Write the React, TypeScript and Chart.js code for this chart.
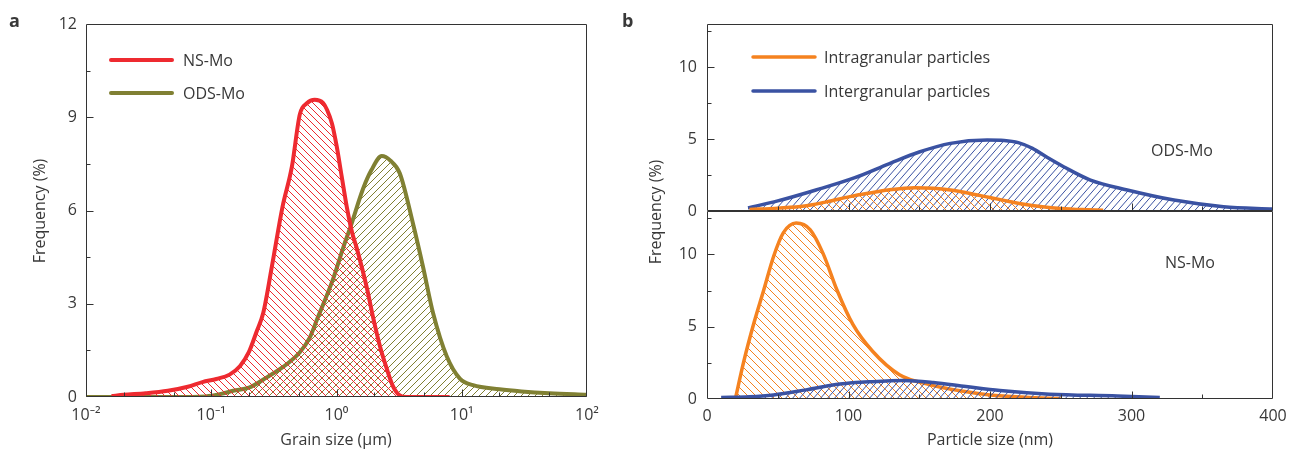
import React, { useEffect, useRef } from 'react';
import { Chart, registerables } from 'chart.js';

Chart.register(...registerables);

const FONT = '"Open Sans", "Noto Sans", "DejaVu Sans", sans-serif';
const TEXT = '#383838';
const AXIS = '#333333';

const RED = '#ee2a30';
const OLIVE = '#808033';
const ORANGE = '#f5821f';
const BLUE = '#3a52a2';

// ---- Panel a : grain size distribution (log x, um) ----
const nsMoGrainX = [0.016, 0.02, 0.03, 0.045, 0.065, 0.085, 0.11, 0.14, 0.17, 0.2, 0.23, 0.26, 0.305, 0.37, 0.44, 0.51, 0.58, 0.67, 0.78, 0.84, 0.92, 1.0, 1.1, 1.21, 1.33, 1.46, 1.75, 1.95, 2.22, 2.5, 2.82, 3.2, 3.6, 8];
const nsMoGrainY = [0.03, 0.07, 0.12, 0.2, 0.33, 0.48, 0.58, 0.72, 1.0, 1.45, 2.1, 2.7, 4.2, 6.1, 7.4, 9.1, 9.45, 9.56, 9.46, 9.24, 8.8, 8.1, 7.1, 6.1, 5.3, 4.75, 3.5, 2.6, 1.64, 0.95, 0.35, 0.05, 0, 0];
const odsMoGrainX = [0.01, 0.05, 0.09, 0.12, 0.15, 0.2, 0.28, 0.37, 0.51, 0.61, 0.7, 0.94, 1.13, 1.3, 1.63, 1.9, 2.3, 2.7, 3.2, 4.07, 4.9, 5.9, 7.6, 9.7, 12.3, 20, 30, 50, 100];
const odsMoGrainY = [0, 0, 0.02, 0.1, 0.2, 0.3, 0.64, 0.95, 1.44, 1.9, 2.5, 3.8, 4.8, 5.5, 6.7, 7.3, 7.75, 7.6, 7.2, 5.6, 4.2, 2.7, 1.3, 0.58, 0.38, 0.25, 0.18, 0.12, 0.07];

const grainTickValues = [0.01, 0.1, 1, 10, 100];
const grainTickLabels = ['10⁻²', '10⁻¹', '10⁰', '10¹', '10²'];
const grainMinor = [2, 5];
const freqTicksA = [0, 3, 6, 9, 12];
const freqMinorA = [1.5, 4.5, 7.5, 10.5];

// ---- Panel b : particle size distribution (nm) ----
const odsIntraX = [30, 50, 69, 85, 101, 115, 128, 147, 160, 172, 186, 199, 212, 223, 237, 250, 265, 280];
const odsIntraY = [0.1, 0.2, 0.35, 0.65, 1.0, 1.25, 1.46, 1.62, 1.58, 1.46, 1.22, 0.95, 0.7, 0.49, 0.3, 0.18, 0.1, 0.06];
const odsInterX = [29, 50, 77, 104, 129, 150, 172, 198, 210, 220, 230, 240, 252, 271, 297, 330, 365, 400];
const odsInterY = [0.22, 0.7, 1.46, 2.3, 3.3, 4.1, 4.7, 4.93, 4.9, 4.75, 4.35, 3.75, 3.08, 2.15, 1.46, 0.76, 0.3, 0.14];
const nsIntraX = [20, 26, 33, 40, 47, 54, 63, 73, 82, 92, 103, 117, 136, 158, 180, 200, 225, 250];
const nsIntraY = [0, 2.6, 5.2, 7.5, 9.84, 11.5, 12.17, 11.7, 10.07, 7.5, 5.17, 3.3, 1.68, 0.98, 0.55, 0.28, 0.12, 0.03];
const nsInterX = [10, 30, 47, 70, 94, 117, 139, 160, 183, 207, 242, 290, 320];
const nsInterY = [0.1, 0.15, 0.28, 0.63, 1.03, 1.2, 1.28, 1.14, 0.86, 0.58, 0.33, 0.21, 0.1];

const particleTicks = [0, 100, 200, 300, 400];
const particleMajor = [100, 200, 300];
const particleMinor = [50, 150, 250, 350];
const freqTicksB = [0, 5, 10];
const freqMinorB = [2.5, 7.5, 12.5];

const zip = (xs: number[], ys: number[]) => xs.map((x, i) => ({ x, y: ys[i] }));

function hatch(ctx: CanvasRenderingContext2D, color: string, dir: '/' | '\\', w: number, h: number) {
  const c = document.createElement('canvas');
  c.width = w;
  c.height = h;
  const g = c.getContext('2d')!;
  g.strokeStyle = color;
  g.lineWidth = 1;
  g.beginPath();
  for (const ox of [-w, 0, w]) {
    if (dir === '/') {
      g.moveTo(ox, h);
      g.lineTo(ox + w, 0);
    } else {
      g.moveTo(ox, 0);
      g.lineTo(ox + w, h);
    }
  }
  g.stroke();
  return ctx.createPattern(c, 'repeat')!;
}

type Txt = { t: string; x: number; y: number; align?: CanvasTextAlign; size?: number; bold?: boolean; rot?: boolean; base?: CanvasTextBaseline };
type Leg = { x1: number; x2: number; tx: number; ys: number[]; lw: number };
type Spec = { xMajor: number[]; xMinor: number[]; yMajor: number[]; yMinor: number[]; texts: Txt[]; legend?: Leg };

function decor(spec: Spec) {
  return {
    id: 'decor',
    afterDatasetsDraw(chart: any) {
      const { ctx, chartArea: a, scales } = chart;
      const xs = scales.x;
      const ys = scales.y;
      ctx.save();
      ctx.strokeStyle = AXIS;
      ctx.lineWidth = 1;
      ctx.beginPath();
      const L = Math.round(a.left) + 0.5;
      const R = Math.round(a.right) - 0.5;
      const T = Math.round(a.top) + 0.5;
      const B = Math.round(a.bottom) - 0.5;
      ctx.moveTo(L, T);
      ctx.lineTo(R, T);
      ctx.lineTo(R, B);
      ctx.lineTo(L, B);
      ctx.closePath();
      const xt = (v: number, len: number) => {
        const p = Math.round(xs.getPixelForValue(v)) + 0.5;
        ctx.moveTo(p, B);
        ctx.lineTo(p, B - len);
      };
      const yt = (v: number, len: number) => {
        const p = Math.round(ys.getPixelForValue(v)) + 0.5;
        ctx.moveTo(L, p);
        ctx.lineTo(L + len, p);
      };
      spec.xMajor.forEach((v) => xt(v, 7));
      spec.xMinor.forEach((v) => xt(v, 4));
      spec.yMajor.forEach((v) => yt(v, 7));
      spec.yMinor.forEach((v) => yt(v, 4));
      ctx.stroke();

      if (spec.legend) {
        const lg = spec.legend;
        chart.data.datasets.forEach((ds: any, i: number) => {
          const y = lg.ys[i];
          ctx.strokeStyle = ds.borderColor;
          ctx.lineWidth = lg.lw;
          ctx.lineCap = 'round';
          ctx.beginPath();
          ctx.moveTo(lg.x1, y);
          ctx.lineTo(lg.x2, y);
          ctx.stroke();
          ctx.fillStyle = TEXT;
          ctx.font = `16px ${FONT}`;
          ctx.textAlign = 'left';
          ctx.textBaseline = 'middle';
          ctx.fillText(ds.label, lg.tx, y + 1);
        });
      }

      for (const tx of spec.texts) {
        ctx.save();
        ctx.fillStyle = TEXT;
        ctx.font = `${tx.bold ? 'bold ' : ''}${tx.size || 16}px ${FONT}`;
        ctx.textAlign = tx.align || 'center';
        ctx.textBaseline = tx.base || 'middle';
        ctx.translate(tx.x, tx.y);
        if (tx.rot) ctx.rotate(-Math.PI / 2);
        ctx.fillText(tx.t, 0, 0);
        ctx.restore();
      }
      ctx.restore();
    },
  };
}

const tickFont = { family: FONT, size: 16 };

function ds(label: string, data: any[], color: string, pattern: CanvasPattern, width: number) {
  return {
    label,
    data,
    borderColor: color,
    borderWidth: width,
    backgroundColor: pattern,
    fill: 'origin',
    pointRadius: 0,
    cubicInterpolationMode: 'monotone',
    tension: 0.4,
  };
}

const fixX = (h: number) => (s: any) => {
  s.height = h;
  s.paddingLeft = 0;
  s.paddingRight = 0;
};
const fixY = (w: number) => (s: any) => {
  s.width = w;
  s.paddingTop = 0;
  s.paddingBottom = 0;
};

function baseOptions(padding: any, xScale: any, yScale: any) {
  return {
    responsive: false,
    animation: false,
    devicePixelRatio: 1,
    layout: { padding },
    plugins: { legend: { display: false }, tooltip: { enabled: false }, title: { display: false } },
    events: [],
    scales: { x: xScale, y: yScale },
  };
}

export default function App() {
  const aRef = useRef<HTMLCanvasElement>(null);
  const btRef = useRef<HTMLCanvasElement>(null);
  const bbRef = useRef<HTMLCanvasElement>(null);

  useEffect(() => {
    const charts: Chart[] = [];

    // Panel a
    const ca = aRef.current!;
    const ctxA = ca.getContext('2d')!;
    charts.push(
      new Chart(ca, {
        type: 'line',
        data: {
          datasets: [
            ds('NS-Mo', zip(nsMoGrainX, nsMoGrainY), RED, hatch(ctxA, RED, '\\', 7, 7), 4),
            ds('ODS-Mo', zip(odsMoGrainX, odsMoGrainY), OLIVE, hatch(ctxA, OLIVE, '/', 7, 7), 4),
          ],
        },
        options: baseOptions(
          { left: 0, top: 24, right: 703, bottom: 0 },
          {
            type: 'logarithmic',
            min: 0.01,
            max: 100,
            grid: { display: false, drawTicks: false },
            border: { display: false },
            ticks: { autoSkip: false, maxRotation: 0, padding: 9, font: tickFont, color: TEXT, callback: (_v: any, i: number) => grainTickLabels[i] },
            afterBuildTicks: (s: any) => { s.ticks = grainTickValues.map((value) => ({ value })); },
            afterFit: fixX(52),
          },
          {
            type: 'linear',
            min: 0,
            max: 12,
            grid: { display: false, drawTicks: false },
            border: { display: false },
            ticks: { padding: 9, font: tickFont, color: TEXT },
            afterBuildTicks: (s: any) => { s.ticks = freqTicksA.map((value) => ({ value })); },
            afterFit: fixY(86),
          }
        ) as any,
        plugins: [
          decor({
            xMajor: grainTickValues.slice(1, -1),
            xMinor: grainTickValues.slice(0, -1).flatMap((d) => grainMinor.map((m) => d * m)),
            yMajor: freqTicksA.slice(1, -1),
            yMinor: freqMinorA,
            texts: [
              { t: 'a', x: 9, y: 27, bold: true, size: 18, align: 'left', base: 'alphabetic' },
              { t: 'Grain size (μm)', x: 336, y: 440 },
              { t: 'Frequency (%)', x: 40, y: 211, rot: true },
            ],
            legend: { x1: 111, x2: 172, tx: 183, ys: [60, 93], lw: 4 },
          }),
        ],
      } as any)
    );

    // Panel b top (ODS-Mo)
    const cbt = btRef.current!;
    const ctxBT = cbt.getContext('2d')!;
    charts.push(
      new Chart(cbt, {
        type: 'line',
        data: {
          datasets: [
            ds('Intragranular particles', zip(odsIntraX, odsIntraY), ORANGE, hatch(ctxBT, ORANGE, '\\', 8, 8), 3.5),
            ds('Intergranular particles', zip(odsInterX, odsInterY), BLUE, hatch(ctxBT, BLUE, '/', 7, 8), 3.5),
          ],
        },
        options: baseOptions(
          { left: 620, top: 24, right: 17, bottom: 0 },
          {
            type: 'linear',
            min: 0,
            max: 400,
            grid: { display: false, drawTicks: false },
            border: { display: false },
            ticks: { display: false },
            afterFit: fixX(238),
          },
          {
            type: 'linear',
            min: 0,
            max: 13,
            grid: { display: false, drawTicks: false },
            border: { display: false },
            ticks: { padding: 10, font: tickFont, color: TEXT },
            afterBuildTicks: (s: any) => { s.ticks = freqTicksB.map((value) => ({ value })); },
            afterFit: fixY(87),
          }
        ) as any,
        plugins: [
          decor({
            xMajor: particleMajor,
            xMinor: particleMinor,
            yMajor: freqTicksB.slice(1),
            yMinor: freqMinorB,
            texts: [
              { t: 'b', x: 622, y: 27, bold: true, size: 18, align: 'left', base: 'alphabetic' },
              { t: 'ODS-Mo', x: 1151, y: 151, align: 'left' },
              { t: 'Frequency (%)', x: 656, y: 212, rot: true },
            ],
            legend: { x1: 753, x2: 815, tx: 824, ys: [57, 91], lw: 3.5 },
          }),
        ],
      } as any)
    );

    // Panel b bottom (NS-Mo)
    const cbb = bbRef.current!;
    const ctxBB = cbb.getContext('2d')!;
    charts.push(
      new Chart(cbb, {
        type: 'line',
        data: {
          datasets: [
            ds('Intergranular particles', zip(nsInterX, nsInterY), BLUE, hatch(ctxBB, BLUE, '/', 7, 8), 3.5),
            ds('Intragranular particles', zip(nsIntraX, nsIntraY), ORANGE, hatch(ctxBB, ORANGE, '\\', 8, 8), 3.5),
          ],
        },
        options: baseOptions(
          { left: 620, top: 211, right: 17, bottom: 0 },
          {
            type: 'linear',
            min: 0,
            max: 400,
            grid: { display: false, drawTicks: false },
            border: { display: false },
            ticks: { padding: 8, font: tickFont, color: TEXT, autoSkip: false, maxRotation: 0 },
            afterBuildTicks: (s: any) => { s.ticks = particleTicks.map((value) => ({ value })); },
            afterFit: fixX(50),
          },
          {
            type: 'linear',
            min: 0,
            max: 13,
            grid: { display: false, drawTicks: false },
            border: { display: false },
            ticks: { padding: 10, font: tickFont, color: TEXT },
            afterBuildTicks: (s: any) => { s.ticks = freqTicksB.map((value) => ({ value })); },
            afterFit: fixY(87),
          }
        ) as any,
        plugins: [
          decor({
            xMajor: particleMajor,
            xMinor: particleMinor,
            yMajor: freqTicksB.slice(1),
            yMinor: freqMinorB,
            texts: [
              { t: 'NS-Mo', x: 1165, y: 263, align: 'left' },
              { t: 'Particle size (nm)', x: 990, y: 440 },
            ],
          }),
        ],
      } as any)
    );

    return () => charts.forEach((c) => c.destroy());
  }, []);

  const cs: React.CSSProperties = { position: 'absolute', left: 0, top: 0, display: 'block' };
  return (
    <div style={{ position: 'absolute', left: 0, top: 0, width: 1290, height: 449, background: '#ffffff', overflow: 'hidden' }}>
      <canvas ref={aRef} width={1290} height={449} style={cs} />
      <canvas ref={btRef} width={1290} height={449} style={cs} />
      <canvas ref={bbRef} width={1290} height={449} style={cs} />
    </div>
  );
}
